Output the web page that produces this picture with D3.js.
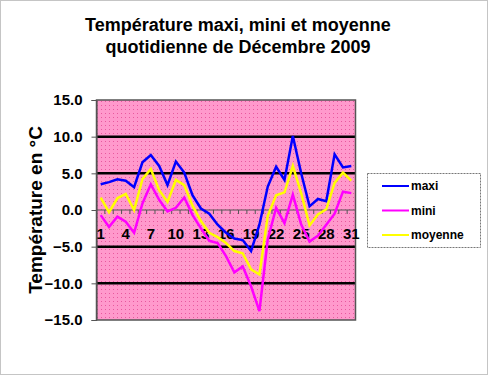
<!DOCTYPE html>
<html lang="fr">
<head>
<meta charset="utf-8">
<script src="https://d3js.org/d3.v7.min.js"></script>
<style>
    body { margin: 0; background: white; }
    svg { display: block; font-family: "Liberation Sans", Arial, sans-serif; }
</style>
</head>
<body>
<div id="graphique"></div>
<script>
    const jours = d3.range(1, 32);
    const maxi = [3.5, 3.8, 4.2, 4.0, 3.1, 6.5, 7.5, 6.0, 3.4, 6.6, 5.1, 2.0, 0.2, -0.5, -2.0, -3.1,
        -3.9, -4.1, -5.6, -2.0, 3.2, 5.9, 4.1, 10.1, 5.0, 0.5, 1.5, 1.2, 7.6, 5.8, 6.0];
    const mini = [-0.7, -2.3, -0.9, -1.6, -3.1, 0.9, 3.5, 1.4, -0.2, 0.3, 1.7, -0.7, -2.5, -4.2, -4.5, -6.3,
        -8.5, -7.7, -10.4, -13.8, -4.0, 0.3, -1.8, 2.1, -2.0, -4.3, -3.5, -2.0, -0.5, 2.5, 2.3];
    const moyenne = [1.7, -0.3, 1.6, 2.2, 0.0, 4.2, 5.6, 2.7, 1.1, 4.1, 3.4, 0.6, -1.5, -3.1, -3.7, -4.5,
        -5.6, -5.9, -8.1, -8.8, -0.8, 2.0, 2.4, 6.0, 2.3, -2.1, -0.6, 0.1, 3.7, 5.1, 4.0];
    const joursAffiches = [1, 4, 7, 10, 13, 16, 19, 22, 25, 28, 31];
    const graduationsY = [15, 10, 5, 0, -5, -10, -15];
    const grilleY = [10, 5, -5, -10];

    const series = [
        { nom: "maxi", valeurs: maxi, couleur: "#0000ff" },
        { nom: "mini", valeurs: mini, couleur: "#ff00ff" },
        { nom: "moyenne", valeurs: moyenne, couleur: "#ffff00" }
    ];

    const largeur = 488, hauteur = 375;
    const zone = { gauche: 96.5, droite: 355.5, haut: 100, bas: 320 };

    const svg = d3.select("#graphique").append("svg")
        .attr("width", largeur)
        .attr("height", hauteur);

    // cadre pointillé autour du graphique
    svg.append("rect")
        .attr("x", 0.5).attr("y", 0.5)
        .attr("width", largeur - 1).attr("height", hauteur - 1)
        .attr("fill", "white")
        .attr("stroke", "#8a8a8a")
        .attr("stroke-dasharray", "1,1");

    const x = d3.scaleBand().domain(jours).range([zone.gauche, zone.droite]).padding(0);
    const y = d3.scaleLinear().domain([-15, 15]).range([zone.bas, zone.haut]);

    // motif rose à points
    const motif = svg.append("defs").append("pattern")
        .attr("id", "points")
        .attr("width", 4).attr("height", 4)
        .attr("patternUnits", "userSpaceOnUse");
    motif.append("rect").attr("width", 4).attr("height", 4).attr("fill", "#ff99cc");
    motif.append("rect").attr("x", 1).attr("y", 1).attr("width", 1).attr("height", 1).attr("fill", "#e8589e");

    svg.append("rect")
        .attr("x", zone.gauche).attr("y", zone.haut)
        .attr("width", zone.droite - zone.gauche)
        .attr("height", zone.bas - zone.haut)
        .attr("fill", "url(#points)");

    // lignes de grille épaisses
    svg.selectAll(".grille").data(grilleY).enter().append("line")
        .attr("x1", zone.gauche).attr("x2", zone.droite)
        .attr("y1", d => y(d)).attr("y2", d => y(d))
        .attr("stroke", "black")
        .attr("stroke-width", 2.5);

    // bordure de la zone de traçage
    svg.append("rect")
        .attr("x", zone.gauche).attr("y", zone.haut)
        .attr("width", zone.droite - zone.gauche)
        .attr("height", zone.bas - zone.haut)
        .attr("fill", "none")
        .attr("stroke", "#555")
        .attr("stroke-width", 1.5);

    // axe des y
    const axeY = svg.append("g")
        .attr("transform", `translate(${zone.gauche},0)`)
        .call(d3.axisLeft(y).tickValues(graduationsY).tickFormat(d3.format(".1f")).tickSize(5).tickPadding(9));
    axeY.select(".domain").attr("stroke", "#555");
    axeY.selectAll("line").attr("stroke", "#555");
    axeY.selectAll("text")
        .attr("font-size", 15)
        .attr("font-weight", "bold")
        .attr("font-family", "Liberation Sans, Arial, sans-serif")
        .attr("fill", "black");

    // axe des x sur la ligne 0
    svg.append("line")
        .attr("x1", zone.gauche).attr("x2", zone.droite)
        .attr("y1", y(0)).attr("y2", y(0))
        .attr("stroke", "#555");
    svg.selectAll(".marque").data(jours.concat([32])).enter().append("line")
        .attr("x1", d => d <= 31 ? x(d) : zone.droite)
        .attr("x2", d => d <= 31 ? x(d) : zone.droite)
        .attr("y1", y(0)).attr("y2", y(0) + 4)
        .attr("stroke", "#555");
    svg.selectAll(".jour").data(joursAffiches).enter().append("text")
        .attr("x", d => x(d) + x.bandwidth() / 2)
        .attr("y", y(0) + 29)
        .attr("text-anchor", "middle")
        .attr("font-size", 15)
        .attr("font-weight", "bold")
        .text(d => d);

    // courbes
    const ligne = d3.line()
        .x((d, i) => x(jours[i]) + x.bandwidth() / 2)
        .y(d => y(d));

    series.forEach(s => {
        svg.append("path")
            .attr("d", ligne(s.valeurs))
            .attr("fill", "none")
            .attr("stroke", s.couleur)
            .attr("stroke-width", 2.5)
            .attr("stroke-linejoin", "miter");
    });

    // titre
    const titre = svg.append("text")
        .attr("x", 238)
        .attr("text-anchor", "middle")
        .attr("font-size", 18)
        .attr("font-weight", "bold");
    titre.append("tspan").attr("x", 238).attr("y", 31).text("Température maxi, mini et moyenne");
    titre.append("tspan").attr("x", 238).attr("y", 53).text("quotidienne de Décembre 2009");

    // titre de l'axe y
    svg.append("text")
        .attr("transform", "translate(42,210) rotate(-90)")
        .attr("text-anchor", "middle")
        .attr("font-size", 19)
        .attr("font-weight", "bold")
        .text("Température en °C");

    // légende
    const legende = svg.append("g");
    legende.append("rect")
        .attr("x", 367.5).attr("y", 173.5)
        .attr("width", 113).attr("height", 74)
        .attr("fill", "white")
        .attr("stroke", "#777")
        .attr("stroke-dasharray", "2,1");
    series.forEach((s, i) => {
        const yl = 186 + i * 24.5;
        legende.append("line")
            .attr("x1", 382).attr("x2", 409)
            .attr("y1", yl).attr("y2", yl)
            .attr("stroke", s.couleur)
            .attr("stroke-width", 2);
        legende.append("text")
            .attr("x", 411).attr("y", yl + 4)
            .attr("font-size", 12)
            .attr("font-weight", "bold")
            .text(s.nom);
    });
</script>
</body>
</html>
